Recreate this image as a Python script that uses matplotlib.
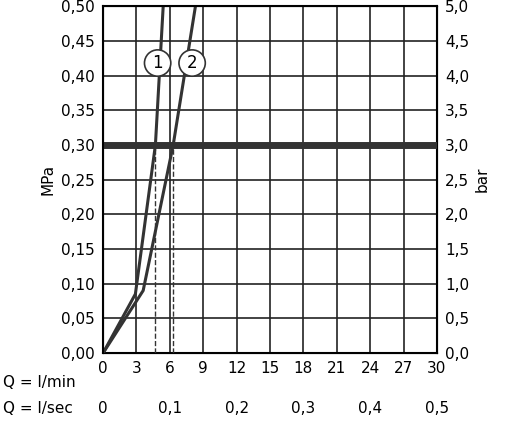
import numpy as np
import matplotlib.pyplot as plt
from matplotlib.transforms import blended_transform_factory

# curve data (Q l/min, pressure MPa)
q1 = [0, 2.9, 4.7, 5.4]
p1 = [0, 0.085, 0.30, 0.50]
q2 = [0, 3.6, 6.3, 8.3]
p2 = [0, 0.09, 0.30, 0.50]
q_ticks = [0, 3, 6, 9, 12, 15, 18, 21, 24, 27, 30]
sec_pos = [0, 6, 12, 18, 24, 30]
sec_labels = ['0', '0,1', '0,2', '0,3', '0,4', '0,5']
mpa_ticks = np.arange(0, 0.501, 0.05)

fig = plt.figure(figsize=(5.08, 4.24), dpi=100)
ax = fig.add_axes([0.203, 0.1675, 0.657, 0.818])
ax.set_xlim(0, 30)
ax.set_ylim(0, 0.5)
ax.set_xticks(q_ticks)
ax.set_xticklabels([str(v) for v in q_ticks], fontsize=11)
ax.set_yticks(mpa_ticks)
ax.set_yticklabels([f'{v:.2f}'.replace('.', ',') for v in mpa_ticks], fontsize=11)
ax.grid(True, color='#222222', lw=1.2)
ax.tick_params(length=0, pad=6)
for s in ax.spines.values():
    s.set_linewidth(1.5)
ax.set_ylabel('MPa', fontsize=11, labelpad=4)

ax2 = ax.twinx()
ax2.set_ylim(0, 5)
ax2.set_yticks(np.arange(0, 5.01, 0.5))
ax2.set_yticklabels([f'{v:.1f}'.replace('.', ',') for v in np.arange(0, 5.01, 0.5)], fontsize=11)
ax2.tick_params(length=0, pad=6)
ax2.set_ylabel('bar', fontsize=11, labelpad=4)

ax.axhline(0.30, color='#333333', lw=5, zorder=3)
ax.plot(q1, p1, color='#333333', lw=2.2, zorder=4)
ax.plot(q2, p2, color='#333333', lw=2.2, zorder=4)
ax.plot([q1[2], q1[2]], [0, 0.30], color='#333333', lw=1, ls='--', zorder=4)
ax.plot([q2[2], q2[2]], [0, 0.30], color='#333333', lw=1, ls='--', zorder=4)

for x, lab in [(4.9, '1'), (8.0, '2')]:
    ax.text(x, 0.418, lab, fontsize=12, ha='center', va='center', zorder=5,
            bbox=dict(boxstyle='circle,pad=0.25', fc='white', ec='#333333', lw=1.2))

tr = blended_transform_factory(ax.transData, fig.transFigure)
fig.text(0.005, 0.098, 'Q = l/min', fontsize=11, va='center')
fig.text(0.005, 0.037, 'Q = l/sec', fontsize=11, va='center')
for x, lab in zip(sec_pos, sec_labels):
    ax.text(x, 0.037, lab, transform=tr, fontsize=11, ha='center', va='center')

fig.savefig('out.png', dpi=100)
